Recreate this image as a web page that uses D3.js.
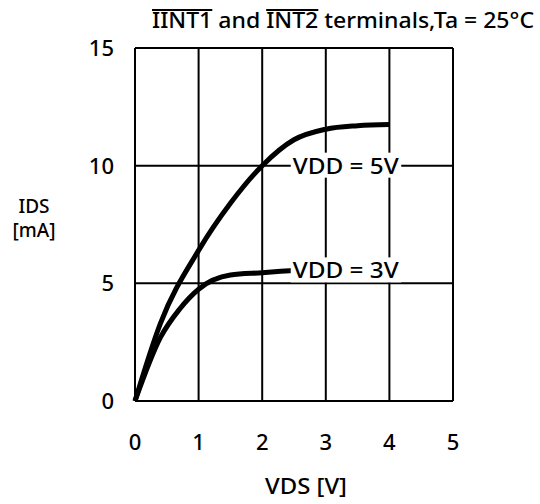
<!DOCTYPE html>
<html>
<head>
<meta charset="utf-8">
<script src="https://cdn.jsdelivr.net/npm/d3@7"></script>
<style>
  html, body { margin: 0; padding: 0; background: #fff; }
  svg { display: block; }
  text { font-family: "Noto Sans", "Open Sans", sans-serif; fill: #000; font-weight: 500; }
</style>
</head>
<body>
<svg id="chart" width="540" height="504"></svg>
<script>
// ---- data ----
const xTicks = [0, 1, 2, 3, 4, 5];
const yTicks = [0, 5, 10, 15];
const vds5 = [0, 0.4, 1, 1.5, 2, 2.5, 3, 3.5, 4];
const ids5 = [0, 3.3, 6.4, 8.4, 10, 11.1, 11.55, 11.7, 11.75];
const vds3 = [0, 0.4, 0.7, 1, 1.5, 2, 2.5];
const ids3 = [0, 2.7, 3.9, 4.75, 5.35, 5.45, 5.55];
const seriesLabels = ["VDD = 5V", "VDD = 3V"];
const labelAnchors = [[2.48, 10], [2.48, 5.55]];
const titleText = "IINT1 and INT2 terminals,Ta = 25°C";

const svg = d3.select("#chart");
const x = d3.scaleLinear().domain([0, 5]).range([135, 453]);
const y = d3.scaleLinear().domain([0, 15]).range([401, 48]);

// grid
const g = svg.append("g");
g.selectAll("line.vg").data(xTicks).join("line")
  .attr("x1", d => x(d)).attr("x2", d => x(d))
  .attr("y1", y(0)).attr("y2", y(15))
  .attr("stroke", "#000").attr("stroke-width", 2);
g.selectAll("line.hg").data(yTicks).join("line")
  .attr("x1", x(0)).attr("x2", x(5))
  .attr("y1", d => y(d)).attr("y2", d => y(d))
  .attr("stroke", "#000").attr("stroke-width", 2);

// tick labels
svg.selectAll("text.xt").data(xTicks).join("text")
  .attr("x", d => x(d)).attr("y", 450)
  .attr("text-anchor", "middle").attr("font-size", 22).attr("font-weight", 600)
  .text(d => d);
svg.selectAll("text.yt").data(yTicks).join("text")
  .attr("x", 114).attr("y", d => y(d) + 8)
  .attr("text-anchor", "end").attr("font-size", 22).attr("font-weight", 600)
  .text(d => d);

// curves
const line = d3.line().x(d => x(d[0])).y(d => y(d[1])).curve(d3.curveMonotoneX);
const series = [d3.zip(vds5, ids5), d3.zip(vds3, ids3)];
svg.selectAll("path.c").data(series).join("path")
  .attr("d", line).attr("fill", "none")
  .attr("stroke", "#000").attr("stroke-width", 5)
  .attr("stroke-linejoin", "round").attr("stroke-linecap", "butt");

// series labels with white background
seriesLabels.forEach((lab, i) => {
  const t = svg.append("text")
    .attr("x", x(labelAnchors[i][0])).attr("y", y(labelAnchors[i][1]) + 8)
    .attr("font-size", 22).attr("textLength", 106).attr("lengthAdjust", "spacingAndGlyphs")
    .text(lab);
  const bb = t.node().getBBox();
  svg.insert("rect", () => t.node())
    .attr("x", bb.x - 2).attr("y", bb.y + 3).attr("width", bb.width + 4).attr("height", bb.height - 5)
    .attr("fill", "#fff");
});

// axis titles
svg.append("text").attr("x", 34).attr("y", 213).attr("text-anchor", "middle")
  .attr("font-size", 19).text("IDS");
svg.append("text").attr("x", 34).attr("y", 237).attr("text-anchor", "middle")
  .attr("font-size", 19).text("[mA]");
svg.append("text").attr("x", 306).attr("y", 494).attr("text-anchor", "middle")
  .attr("font-size", 22).attr("textLength", 82).attr("lengthAdjust", "spacingAndGlyphs")
  .text("VDS [V]");

// title with overlines
const titleX = 152, titleW = 382;
const title = svg.append("text").attr("x", titleX).attr("y", 28).attr("font-size", 22)
  .text(titleText);
const tn = title.node();
const natural = tn.getComputedTextLength();
const k = titleW / natural;
const subs = [[0, 5], [10, 4]].map(([s, n]) => [tn.getSubStringLength(0, s), tn.getSubStringLength(s, n)]);
title.attr("textLength", titleW).attr("lengthAdjust", "spacingAndGlyphs");
subs.forEach(([off, w]) => {
  svg.append("line").attr("x1", titleX + off * k).attr("x2", titleX + (off + w) * k)
    .attr("y1", 10).attr("y2", 10).attr("stroke", "#000").attr("stroke-width", 2);
});
</script>
</body>
</html>
